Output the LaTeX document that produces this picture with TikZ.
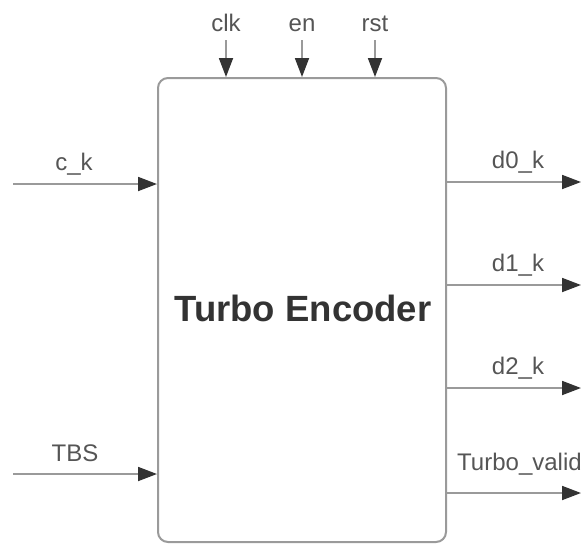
\documentclass[tikz,border=0pt]{standalone}
\usepackage{fontspec}
\setmainfont{Liberation Sans}
\usetikzlibrary{arrows.meta}
\definecolor{linegray}{HTML}{9A9A9A}
\definecolor{headgray}{HTML}{333333}
\definecolor{txtgray}{HTML}{555555}
\tikzset{
  blockbox/.style={draw=linegray, line width=2pt, rounded corners=10pt, fill=white,
    minimum width=288pt, minimum height=464pt, inner sep=0pt},
  sig/.style={draw=linegray, line width=1.8pt,
    -{Triangle[length=19pt,width=14pt,color=headgray]}},
  lbl/.style={text=txtgray, font=\fontsize{24}{24}\selectfont, anchor=base, inner sep=0pt},
  lbll/.style={lbl, anchor=base west},
  title/.style={text=headgray, font=\fontsize{36.5}{36.5}\selectfont\bfseries}
}
\begin{document}
\begin{tikzpicture}[x=1pt,y=-1pt]
\useasboundingbox (0,0) rectangle (581,544);
\node[blockbox] (enc) at (302,310) {};
\node[title] (tt) at (303,308) {Turbo Encoder};
% top inputs
\coordinate (clk) at (226,40);
\coordinate (en) at (302,40);
\coordinate (rst) at (375,40);
\draw[sig] (clk) -- (clk |- enc.north);
\draw[sig] (en) -- (en |- enc.north);
\draw[sig] (rst) -- (rst |- enc.north);
\node[lbl] (lclk) at (226,31) {clk};
\node[lbl] (len) at (302,31) {en};
\node[lbl] (lrst) at (375,31) {rst};
% left inputs
\coordinate (ck) at (13,184);
\coordinate (tbs) at (13,474);
\draw[sig] (ck) -- (ck -| enc.west);
\draw[sig] (tbs) -- (tbs -| enc.west);
\node[lbl] (lck) at (74,170) {c\_k};
\node[lbl] (ltbs) at (75,461) {TBS};
% right outputs
\coordinate (d0) at (581,182);
\coordinate (d1) at (581,285);
\coordinate (d2) at (581,388);
\coordinate (tv) at (581,493);
\draw[sig] (d0 -| enc.east) -- (d0);
\draw[sig] (d1 -| enc.east) -- (d1);
\draw[sig] (d2 -| enc.east) -- (d2);
\draw[sig] (tv -| enc.east) -- (tv);
\node[lbl] (ld0) at (518,168) {d0\_k};
\node[lbl] (ld1) at (518,271) {d1\_k};
\node[lbl] (ld2) at (518,374) {d2\_k};
\node[lbll] (ltv) at (457,470) {Turbo\_valid};
\end{tikzpicture}
\end{document}
